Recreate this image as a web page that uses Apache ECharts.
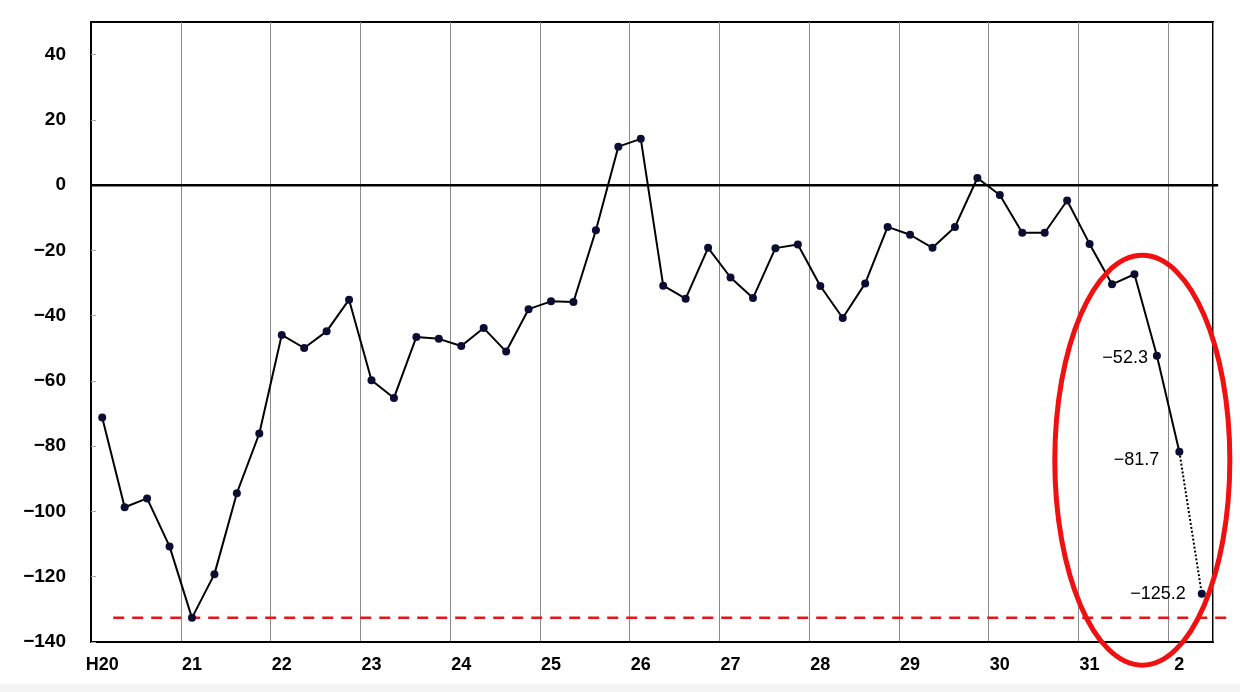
<!DOCTYPE html>
<html>
<head>
<meta charset="utf-8">
<script src="https://cdn.jsdelivr.net/npm/echarts@6/dist/echarts.min.js"></script>
<style>html,body{margin:0;padding:0;background:#fff;}#c{width:1240px;height:692px;}</style>
</head>
<body>
<div id="c"></div>
<script>
const yearLabels = ['H20','21','22','23','24','25','26','27','28','29','30','31','2'];
const values = [
  -71.2, -98.7, -96.0, -110.7,
  -132.6, -119.2, -94.4, -76.1,
  -45.9, -49.9, -44.8, -35.1,
  -59.8, -65.2, -46.5, -47.1,
  -49.3, -43.8, -51.0, -38.0,
  -35.6, -35.8, -13.8, 11.8,
  14.2, -30.8, -34.8, -19.2,
  -28.3, -34.6, -19.3, -18.2,
  -30.9, -40.7, -30.1, -12.8,
  -15.2, -19.2, -12.8, 2.2,
  -3.0, -14.6, -14.6, -4.7,
  -18.0, -30.4, -27.3, -52.3,
  -81.7, -125.2
];
const forecastFrom = 48;            // dotted segment from this index
const labelledIdx = [47, 48, 49];   // values written next to points
const yTicks = { min: -140, max: 50, interval: 20 };
const lowValue = Math.min(...values);
const refLineSpan = [0.49, 50.18];   // extent of the dashed low-level line (category units)
const zeroLineSpan = [-0.5, 49.73];

const categories = values.map((v, i) => yearLabels[Math.floor(i / 4)] + '/' + (i % 4 + 1));
const fmt = v => String(v).replace('-', '\u2212');

const labelCfg = {
  47: { distance: 5, offset: [0, 2] },
  48: { distance: 16, offset: [0, 8] },
  49: { distance: 12, offset: [0, 0] }
};
const labelFont = { color: '#000', fontSize: 18, fontFamily: 'Liberation Sans, Arial, sans-serif' };

const solidData = values.map((v, i) => {
  if (i > forecastFrom) return null;
  const item = { value: v };
  if (labelledIdx.includes(i)) {
    item.label = Object.assign({ show: true, position: 'left', formatter: () => fmt(v) }, labelFont, labelCfg[i]);
  }
  return item;
});
const dottedData = values.map((v, i) => {
  if (i < forecastFrom) return null;
  const item = { value: v };
  if (i > forecastFrom && labelledIdx.includes(i)) {
    item.label = Object.assign({ show: true, position: 'left', formatter: () => fmt(v) }, labelFont, labelCfg[i]);
  }
  if (i === forecastFrom) item.symbolSize = 0;
  return item;
});

const chart = echarts.init(document.getElementById('c'), null, { renderer: 'canvas' });
chart.setOption({
  backgroundColor: '#fff',
  animation: false,
  grid: { left: 91, right: 27, top: 22, bottom: 50, show: true, borderColor: '#000', borderWidth: 2, backgroundColor: 'transparent' },
  xAxis: [{
    type: 'category',
    data: categories,
    boundaryGap: true,
    axisLine: { show: true, onZero: false, lineStyle: { color: '#000', width: 2 } },
    axisTick: { show: false },
    splitLine: { show: true, interval: 3, lineStyle: { color: '#8a8a8a', width: 1 } },
    axisLabel: {
      interval: 3, margin: 14,
      formatter: v => v.split('/')[0],
      color: '#000', fontSize: 18, fontWeight: 'bold',
      fontFamily: 'Liberation Sans, Arial, sans-serif'
    }
  }, {
    type: 'value', show: false, min: -0.5, max: values.length - 0.5
  }],
  yAxis: {
    type: 'value', min: yTicks.min, max: yTicks.max, interval: yTicks.interval,
    axisLine: { show: true, onZero: false, lineStyle: { color: '#000', width: 2 } },
    axisTick: { show: true, inside: true, length: 5, lineStyle: { color: '#aaa' } },
    splitLine: { show: false },
    axisLabel: {
      showMaxLabel: false, margin: 25,
      formatter: v => fmt(v),
      color: '#000', fontSize: 19, fontWeight: 'bold',
      fontFamily: 'Liberation Sans, Arial, sans-serif'
    }
  },
  series: [
    {
      type: 'line', data: solidData, symbol: 'circle', symbolSize: 8, z: 3,
      connectNulls: false,
      itemStyle: { color: '#0d0d33' },
      lineStyle: { color: '#000', width: 2 }
    },
    {
      type: 'line', data: dottedData, symbol: 'circle', symbolSize: 8, z: 3,
      itemStyle: { color: '#0d0d33' },
      lineStyle: { color: '#000', width: 2, type: [2, 2] }
    }
  ]
});

const px = (x, y) => chart.convertToPixel({ xAxisIndex: 1, yAxisIndex: 0 }, [x, y]);
const z0 = px(zeroLineSpan[0], 0), z1 = px(zeroLineSpan[1], 0);
const r0 = px(refLineSpan[0], lowValue), r1 = px(refLineSpan[1], lowValue);
const ellCenter = px(46.35, -84.3);
const ellEdge = px(46.35 + 3.9, -84.3 + 62.8);
chart.setOption({
  graphic: [
    { type: 'rect', left: 0, top: 684, shape: { width: 1240, height: 8 }, style: { fill: '#f3f3f3' }, silent: true },
    { type: 'line', silent: true, z: 1, shape: { x1: z0[0], y1: z0[1], x2: z1[0], y2: z1[1] }, style: { stroke: '#000', lineWidth: 2.5 } },
    { type: 'line', silent: true, z: 1, shape: { x1: r0[0], y1: r0[1], x2: r1[0], y2: r1[1] }, style: { stroke: '#e8141a', lineWidth: 2.5, lineDash: [11, 8] } },
    {
      type: 'ellipse', silent: true, z: 100,
      shape: { cx: ellCenter[0], cy: ellCenter[1], rx: ellEdge[0] - ellCenter[0], ry: ellCenter[1] - ellEdge[1] },
      style: { fill: 'none', stroke: '#f01010', lineWidth: 5 }
    }
  ]
});
</script>
</body>
</html>
